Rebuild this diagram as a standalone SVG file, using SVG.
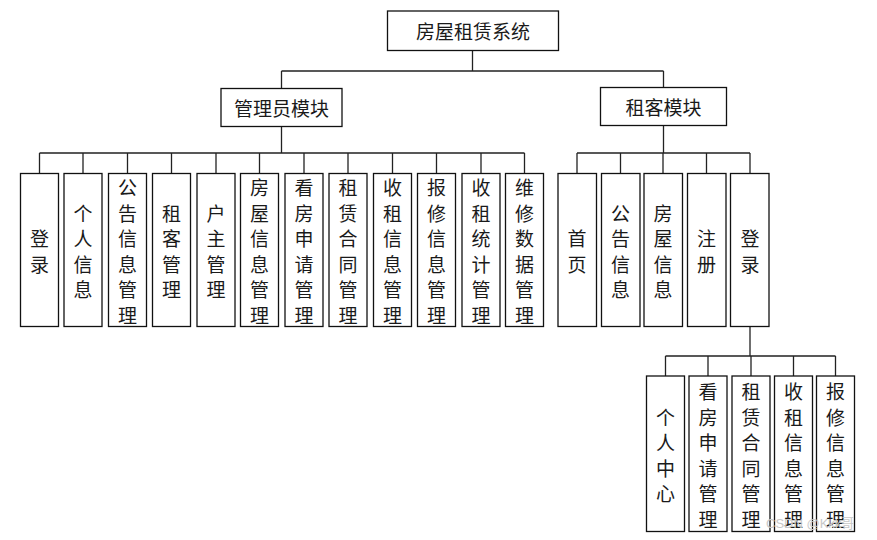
<svg xmlns="http://www.w3.org/2000/svg" width="877" height="540" viewBox="0 0 877 540">
<style>
.box{fill:#fff;stroke:#111;stroke-width:1.3}
.ln{fill:none;stroke:#222;stroke-width:1.3}
text{font-family:"Noto Sans CJK SC","Noto Sans",sans-serif;font-size:19px;fill:#1a1a1a;text-anchor:middle;dominant-baseline:central}
.wm{font-family:"Liberation Sans","Noto Sans CJK SC",sans-serif;font-size:13px;fill:#c8c8c8;text-anchor:start;dominant-baseline:alphabetic}
</style>
<rect width="877" height="540" fill="#fff"/>
<g id="connectors" class="ln">
<path d="M472.5 50.5V71M281.5 71H663.5M281.5 71V88.5M663.5 71V87.5"/>
<path d="M281.5 126.5V153M39.5 153H524.5M39.5 153V173.5M83 153V173.5M127.5 153V173.5M171.5 153V173.5M216 153V173.5M259.5 153V173.5M304 153V173.5M348 153V173.5M392.5 153V173.5M436.5 153V173.5M481 153V173.5M524.5 153V173.5"/>
<path d="M663.5 125.5V153M577 153H750M577 153V173.5M620.5 153V173.5M663 153V173.5M706.5 153V173.5M750 153V173.5"/>
<path d="M750 326.5V356M665.5 356H835.5M665.5 356V376M708 356V376M751 356V376M793.5 356V376M835.5 356V376"/>
</g>
<g id="root"><rect class="box" x="387.5" y="11" width="171" height="39.5"/><text x="473" y="30.5">房屋租赁系统</text></g>
<g id="admin"><rect class="box" x="221" y="88.5" width="121" height="38"/><text x="281.5" y="107">管理员模块</text></g>
<g id="tenant"><rect class="box" x="600.5" y="87.5" width="126" height="38"/><text x="663.5" y="106">租客模块</text></g>

<g id="a1"><rect class="box" x="20.5" y="173.5" width="38" height="153"/><text x="39.5"><tspan x="39.5" y="237.25">登</tspan><tspan x="39.5" y="262.75">录</tspan></text></g>
<g id="a2"><rect class="box" x="64" y="173.5" width="38" height="153"/><text><tspan x="83" y="211.75">个</tspan><tspan x="83" y="237.25">人</tspan><tspan x="83" y="262.75">信</tspan><tspan x="83" y="288.25">息</tspan></text></g>
<g id="a3"><rect class="box" x="108.5" y="173.5" width="38" height="153"/><text><tspan x="127.5" y="186.25">公</tspan><tspan x="127.5" y="211.75">告</tspan><tspan x="127.5" y="237.25">信</tspan><tspan x="127.5" y="262.75">息</tspan><tspan x="127.5" y="288.25">管</tspan><tspan x="127.5" y="313.75">理</tspan></text></g>
<g id="a4"><rect class="box" x="152.5" y="173.5" width="38" height="153"/><text><tspan x="171.5" y="211.75">租</tspan><tspan x="171.5" y="237.25">客</tspan><tspan x="171.5" y="262.75">管</tspan><tspan x="171.5" y="288.25">理</tspan></text></g>
<g id="a5"><rect class="box" x="197" y="173.5" width="38" height="153"/><text><tspan x="216" y="211.75">户</tspan><tspan x="216" y="237.25">主</tspan><tspan x="216" y="262.75">管</tspan><tspan x="216" y="288.25">理</tspan></text></g>
<g id="a6"><rect class="box" x="240.5" y="173.5" width="38" height="153"/><text><tspan x="259.5" y="186.25">房</tspan><tspan x="259.5" y="211.75">屋</tspan><tspan x="259.5" y="237.25">信</tspan><tspan x="259.5" y="262.75">息</tspan><tspan x="259.5" y="288.25">管</tspan><tspan x="259.5" y="313.75">理</tspan></text></g>
<g id="a7"><rect class="box" x="285" y="173.5" width="38" height="153"/><text><tspan x="304" y="186.25">看</tspan><tspan x="304" y="211.75">房</tspan><tspan x="304" y="237.25">申</tspan><tspan x="304" y="262.75">请</tspan><tspan x="304" y="288.25">管</tspan><tspan x="304" y="313.75">理</tspan></text></g>
<g id="a8"><rect class="box" x="329" y="173.5" width="38" height="153"/><text><tspan x="348" y="186.25">租</tspan><tspan x="348" y="211.75">赁</tspan><tspan x="348" y="237.25">合</tspan><tspan x="348" y="262.75">同</tspan><tspan x="348" y="288.25">管</tspan><tspan x="348" y="313.75">理</tspan></text></g>
<g id="a9"><rect class="box" x="373.5" y="173.5" width="38" height="153"/><text><tspan x="392.5" y="186.25">收</tspan><tspan x="392.5" y="211.75">租</tspan><tspan x="392.5" y="237.25">信</tspan><tspan x="392.5" y="262.75">息</tspan><tspan x="392.5" y="288.25">管</tspan><tspan x="392.5" y="313.75">理</tspan></text></g>
<g id="a10"><rect class="box" x="417.5" y="173.5" width="38" height="153"/><text><tspan x="436.5" y="186.25">报</tspan><tspan x="436.5" y="211.75">修</tspan><tspan x="436.5" y="237.25">信</tspan><tspan x="436.5" y="262.75">息</tspan><tspan x="436.5" y="288.25">管</tspan><tspan x="436.5" y="313.75">理</tspan></text></g>
<g id="a11"><rect class="box" x="462" y="173.5" width="38" height="153"/><text><tspan x="481" y="186.25">收</tspan><tspan x="481" y="211.75">租</tspan><tspan x="481" y="237.25">统</tspan><tspan x="481" y="262.75">计</tspan><tspan x="481" y="288.25">管</tspan><tspan x="481" y="313.75">理</tspan></text></g>
<g id="a12"><rect class="box" x="505.5" y="173.5" width="38" height="153"/><text><tspan x="524.5" y="186.25">维</tspan><tspan x="524.5" y="211.75">修</tspan><tspan x="524.5" y="237.25">数</tspan><tspan x="524.5" y="262.75">据</tspan><tspan x="524.5" y="288.25">管</tspan><tspan x="524.5" y="313.75">理</tspan></text></g>

<g id="t1"><rect class="box" x="558" y="173.5" width="38.5" height="153"/><text><tspan x="577" y="237.25">首</tspan><tspan x="577" y="262.75">页</tspan></text></g>
<g id="t2"><rect class="box" x="601.5" y="173.5" width="38.5" height="153"/><text><tspan x="620.5" y="211.75">公</tspan><tspan x="620.5" y="237.25">告</tspan><tspan x="620.5" y="262.75">信</tspan><tspan x="620.5" y="288.25">息</tspan></text></g>
<g id="t3"><rect class="box" x="644" y="173.5" width="38.5" height="153"/><text><tspan x="663" y="211.75">房</tspan><tspan x="663" y="237.25">屋</tspan><tspan x="663" y="262.75">信</tspan><tspan x="663" y="288.25">息</tspan></text></g>
<g id="t4"><rect class="box" x="687.5" y="173.5" width="38.5" height="153"/><text><tspan x="706.5" y="237.25">注</tspan><tspan x="706.5" y="262.75">册</tspan></text></g>
<g id="t5"><rect class="box" x="730.5" y="173.5" width="38.5" height="153"/><text><tspan x="750" y="237.25">登</tspan><tspan x="750" y="262.75">录</tspan></text></g>

<g id="b1"><rect class="box" x="646.5" y="376" width="38" height="155.5"/><text><tspan x="665.5" y="415.5">个</tspan><tspan x="665.5" y="441">人</tspan><tspan x="665.5" y="466.5">中</tspan><tspan x="665.5" y="492">心</tspan></text></g>
<g id="b2"><rect class="box" x="689" y="376" width="38" height="155.5"/><text><tspan x="708" y="390">看</tspan><tspan x="708" y="415.5">房</tspan><tspan x="708" y="441">申</tspan><tspan x="708" y="466.5">请</tspan><tspan x="708" y="492">管</tspan><tspan x="708" y="517.5">理</tspan></text></g>
<g id="b3"><rect class="box" x="732" y="376" width="38" height="155.5"/><text><tspan x="751" y="390">租</tspan><tspan x="751" y="415.5">赁</tspan><tspan x="751" y="441">合</tspan><tspan x="751" y="466.5">同</tspan><tspan x="751" y="492">管</tspan><tspan x="751" y="517.5">理</tspan></text></g>
<g id="b4"><rect class="box" x="774.5" y="376" width="38" height="155.5"/><text><tspan x="793.5" y="390">收</tspan><tspan x="793.5" y="415.5">租</tspan><tspan x="793.5" y="441">信</tspan><tspan x="793.5" y="466.5">息</tspan><tspan x="793.5" y="492">管</tspan><tspan x="793.5" y="517.5">理</tspan></text></g>
<g id="b5"><rect class="box" x="816.5" y="376" width="38" height="155.5"/><text><tspan x="835.5" y="390">报</tspan><tspan x="835.5" y="415.5">修</tspan><tspan x="835.5" y="441">信</tspan><tspan x="835.5" y="466.5">息</tspan><tspan x="835.5" y="492">管</tspan><tspan x="835.5" y="517.5">理</tspan></text></g>

<text class="wm" x="766" y="528">CSDN @Kkk哥</text>
</svg>
